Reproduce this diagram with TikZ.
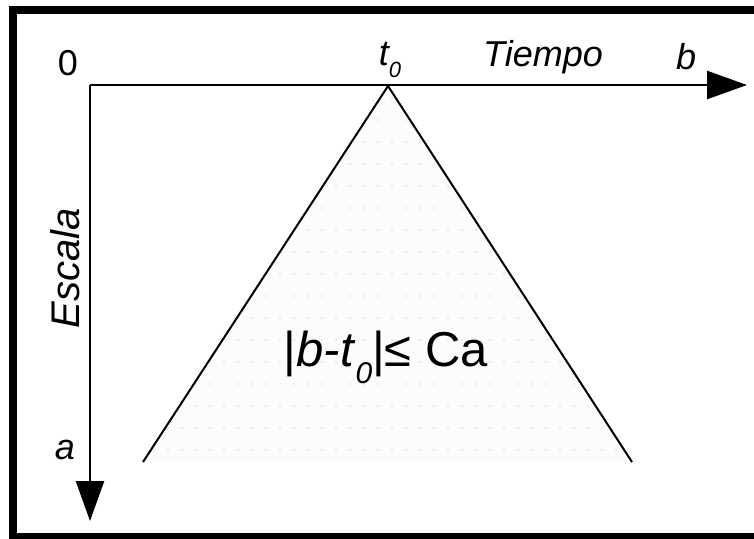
\documentclass[tikz,border=0pt]{standalone}
\usepackage{fontspec}
\setmainfont{Liberation Sans}
\usetikzlibrary{arrows.meta, patterns.meta}

\tikzdeclarepattern{
  name=sparsedots,
  type=uncolored,
  bounding box={(-1pt,-1pt) and (1pt,1pt)},
  tile size={(14pt,22pt)},
  code={\pgfpathcircle{\pgfpointorigin}{0.8pt}\pgfusepath{fill}}
}

\begin{document}
\begin{tikzpicture}[x=1pt, y=-1pt]
    \tikzstyle{label} = [inner sep=0pt, font=\fontsize{36}{40}\selectfont\itshape]
    \tikzstyle{axis} = [line width=2.5pt, -{Triangle[length=40pt, width=28pt]}]
    \tikzstyle{edge} = [line width=2pt]

    \useasboundingbox (0,0) rectangle (754,538);
    \draw [line width=8pt] (13,10) rectangle (760,537);

    % axes
    \coordinate (origin) at (90,85);
    \coordinate (bend) at (747,85);
    \coordinate (down) at (90,521);
    \coordinate (apex) at (388,86);
    \coordinate (left) at (143,462);
    \coordinate (right) at (632,462);

    \fill [gray!2] (apex) -- (left) -- (right) -- cycle;
    \fill [pattern=sparsedots, pattern color=gray!30] (apex) -- (left) -- (right) -- cycle;
    \draw [edge] (left) -- (apex) -- (right);

    \draw [axis] (origin) -- (bend);
    \draw [axis] (origin) -- (down);

    \node [label, font=\fontsize{36}{40}\selectfont] (zero) at (68,63) {0};
    \node [label] (tzero) at (390,60) {t\raisebox{-0.35em}{\fontsize{22}{24}\selectfont 0}};
    \node [label] (time) at (543,57) {Tiempo};
    \node [label] (bpos) at (686,57) {b};
    \node [label, rotate=90, font=\fontsize{40}{44}\selectfont\itshape] (scale) at (65,268) {Escala};
    \node [label] (apos) at (65,450) {a};
    \node [inner sep=0pt, font=\fontsize{49}{54}\selectfont] (cone) at (386,357)
        {|\textit{b-t}\raisebox{-0.35em}{\fontsize{30}{32}\selectfont\itshape 0}|≤ Ca};
\end{tikzpicture}
\end{document}
